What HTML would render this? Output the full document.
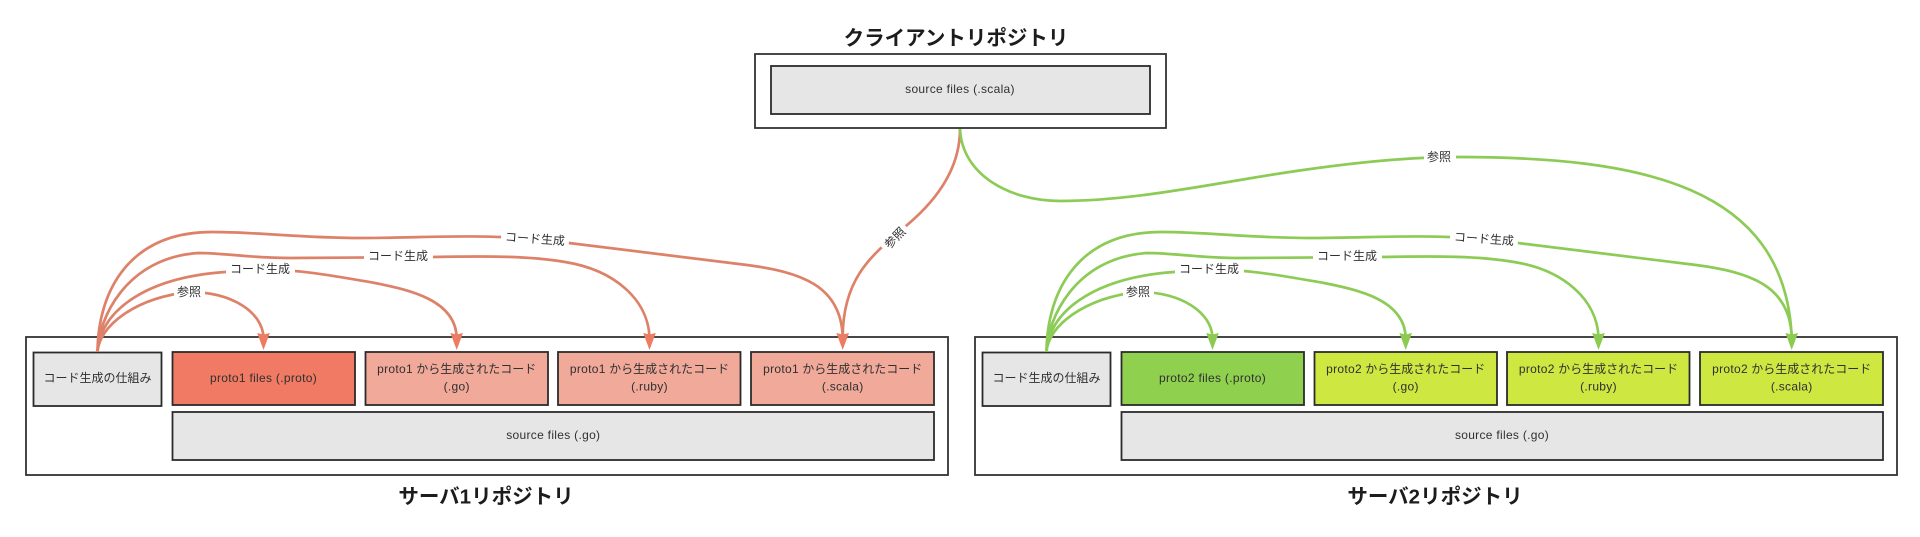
<!DOCTYPE html>
<html lang="ja">
<head>
<meta charset="utf-8">
<title>Repository diagram</title>
<style>
html,body{margin:0;padding:0;background:#fff;width:1920px;height:537px;overflow:hidden}
svg{display:block;font-family:"Liberation Sans","Noto Sans CJK JP",sans-serif}
text{fill:#303030;font-size:12px;text-anchor:middle;dominant-baseline:central}
.l{letter-spacing:.3px}
.t{font-size:20.5px;font-weight:700;fill:#1c1c1c}
.o{fill:#fff;stroke:#333;stroke-width:1.8}
.b{stroke:#2b2b2b;stroke-width:1.8}
.g{fill:#e6e6e6}
.r1{fill:#f07a63}.r2{fill:#f1a99a}
.g1{fill:#8fd14f}.g2{fill:#cee741}
.c{fill:none;stroke-width:2.7;stroke-linecap:butt}
.red .c{stroke:#dd8269}
.grn .c{stroke:#8ccb55}
.red polygon{fill:#ec7c62}
.grn polygon{fill:#8ccb50}
</style>
</head>
<body>
<svg width="1920" height="537" viewBox="0 0 1920 537" xmlns="http://www.w3.org/2000/svg">
<rect width="1920" height="537" fill="#fff"/>

<text class="t" x="956" y="38.500">クライアントリポジトリ</text>
<text class="t" x="486" y="497">サーバ1リポジトリ</text>
<text class="t" x="1435" y="497">サーバ2リポジトリ</text>

<rect class="o" x="755" y="54" width="411" height="74"/>
<rect class="o" x="26" y="337" width="922" height="138"/>
<rect class="o" x="975" y="337" width="922" height="138"/>

<rect class="b g" x="771" y="66" width="379" height="48"/>
<text class="l" x="960" y="89">source files (.scala)</text>

<!-- Server 1 boxes -->
<rect class="b g" x="33.500" y="352.500" width="128" height="53.500"/>
<rect class="b r1" x="172.500" y="352" width="182.500" height="53"/>
<rect class="b r2" x="365.500" y="352" width="182.500" height="53"/>
<rect class="b r2" x="558" y="352" width="182.500" height="53"/>
<rect class="b r2" x="751" y="352" width="183" height="53"/>
<rect class="b g" x="172.500" y="412" width="761.500" height="48"/>

<!-- Server 2 boxes -->
<rect class="b g" x="982.500" y="352.500" width="128" height="53.500"/>
<rect class="b g1" x="1121.500" y="352" width="182.500" height="53"/>
<rect class="b g2" x="1314.500" y="352" width="182.500" height="53"/>
<rect class="b g2" x="1507" y="352" width="182.500" height="53"/>
<rect class="b g2" x="1700" y="352" width="183" height="53"/>
<rect class="b g" x="1121.500" y="412" width="761.500" height="48"/>

<!-- Red connectors -->
<g class="red">
<path class="c" d="M97.500 352C99 326 135 298 189 292C232 292 262 312 263.500 337"/>
<path class="c" d="M97.500 352C99 315 140 278 225 272C235 271 250 270 260 269.500C300 269 340 277 375 283C410 290 455 300 456.700 337"/>
<path class="c" d="M97.500 352C98 320 125 258 198 253C225 253 250 258 290 258C330 258 400 257 433 257C490 256 530 256 565 262C615 270 648 300 649.500 337"/>
<path class="c" d="M97.500 352C98 290 130 232 212 232C260 232 300 238 360 238C410 238 460 235 500 237C530 238 550 241 569 243C630 251 690 258 747 265C800 272 841 285 842.700 337"/>
<path class="c" d="M960 129C960 165 940 195 915 218C880 250 843 270 842.700 337"/>
<polygon points="257.200,333 263.500,334.500 269.800,333 263.500,350"/>
<polygon points="450.400,333 456.700,334.500 463,333 456.700,350"/>
<polygon points="643.200,333 649.500,334.500 655.800,333 649.500,350"/>
<polygon points="836.400,333 842.700,334.500 849,333 842.700,350"/>
</g>

<!-- Green connectors -->
<g class="grn">
<path class="c" d="M1046.500 352C1048 326 1084 298 1138 292C1181 292 1211 312 1212.500 337"/>
<path class="c" d="M1046.500 352C1048 315 1089 278 1174 272C1184 271 1199 270 1209 269.500C1249 269 1289 277 1324 283C1359 290 1404 300 1405.700 337"/>
<path class="c" d="M1046.500 352C1047 320 1074 258 1147 253C1174 253 1199 258 1239 258C1279 258 1349 257 1382 257C1439 256 1479 256 1514 262C1564 270 1597 300 1598.500 337"/>
<path class="c" d="M1046.500 352C1047 290 1079 232 1161 232C1209 232 1249 238 1309 238C1359 238 1409 235 1449 237C1479 238 1499 241 1518 243C1579 251 1639 258 1696 265C1749 272 1790 285 1791.700 337"/>
<path class="c" d="M960 129C962 175 1010 201 1060 201C1120 201 1180 190 1240 180C1310 168 1390 157 1457 157C1640 157 1785 185 1791.700 337"/>
<polygon points="1206.200,333 1212.500,334.500 1218.800,333 1212.500,350"/>
<polygon points="1399.400,333 1405.700,334.500 1412,333 1405.700,350"/>
<polygon points="1592.200,333 1598.500,334.500 1604.800,333 1598.500,350"/>
<polygon points="1785.400,333 1791.700,334.500 1798,333 1791.700,350"/>
</g>

<!-- Box labels -->
<text x="97.500" y="378">コード生成の仕組み</text>
<text class="l" x="263.500" y="378">proto1 files (.proto)</text>
<text x="456.700" y="369"><tspan class="l">proto1</tspan> から生成されたコード</text>
<text class="l" x="456.700" y="386.500">(.go)</text>
<text x="649.500" y="369"><tspan class="l">proto1</tspan> から生成されたコード</text>
<text class="l" x="649.500" y="386.500">(.ruby)</text>
<text x="842.700" y="369"><tspan class="l">proto1</tspan> から生成されたコード</text>
<text class="l" x="842.700" y="386.500">(.scala)</text>
<text class="l" x="553.300" y="435">source files (.go)</text>

<text x="1046.500" y="378">コード生成の仕組み</text>
<text class="l" x="1212.500" y="378">proto2 files (.proto)</text>
<text x="1405.700" y="369"><tspan class="l">proto2</tspan> から生成されたコード</text>
<text class="l" x="1405.700" y="386.500">(.go)</text>
<text x="1598.500" y="369"><tspan class="l">proto2</tspan> から生成されたコード</text>
<text class="l" x="1598.500" y="386.500">(.ruby)</text>
<text x="1791.700" y="369"><tspan class="l">proto2</tspan> から生成されたコード</text>
<text class="l" x="1791.700" y="386.500">(.scala)</text>
<text class="l" x="1502" y="435">source files (.go)</text>

<!-- Connector label backgrounds -->
<g fill="#fff">
<rect x="174" y="284" width="31" height="16"/>
<rect x="226" y="261" width="69" height="16"/>
<rect x="364" y="248" width="69" height="16"/>
<g transform="translate(535 239) rotate(4)"><rect x="-34" y="-9" width="68" height="18"/></g>
<g transform="translate(895 238) rotate(-45)"><rect x="-16" y="-8" width="32" height="16"/></g>
<rect x="1123" y="284" width="31" height="16"/>
<rect x="1175" y="261" width="69" height="16"/>
<rect x="1313" y="248" width="69" height="16"/>
<g transform="translate(1484 239) rotate(4)"><rect x="-34" y="-9" width="68" height="18"/></g>
<rect x="1424" y="149" width="32" height="17"/>
</g>
<text x="189" y="292">参照</text>
<text x="260" y="269">コード生成</text>
<text x="398" y="256">コード生成</text>
<text transform="translate(535 239) rotate(4)">コード生成</text>
<text transform="translate(895 238) rotate(-45)">参照</text>
<text x="1138" y="292">参照</text>
<text x="1209" y="269">コード生成</text>
<text x="1347" y="256">コード生成</text>
<text transform="translate(1484 239) rotate(4)">コード生成</text>
<text x="1439" y="157">参照</text>
</svg>
</body>
</html>
